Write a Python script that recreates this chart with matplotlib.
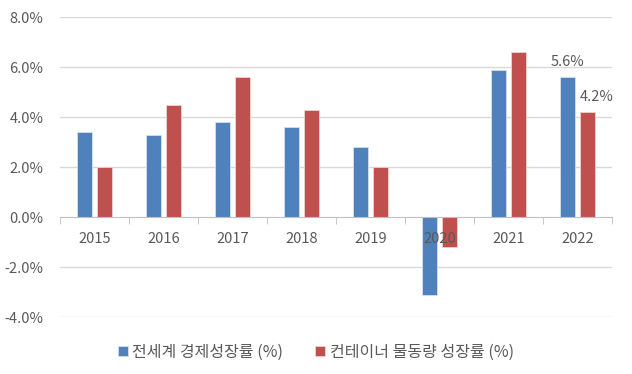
import numpy as np
import matplotlib.pyplot as plt
from matplotlib.ticker import FuncFormatter, FixedLocator

plt.rcParams['font.family'] = ['Noto Sans CJK KR', 'DejaVu Sans']

# 데이터
years = ['2015', '2016', '2017', '2018', '2019', '2020', '2021', '2022']
gdp_growth = [3.4, 3.3, 3.8, 3.6, 2.8, -3.1, 5.9, 5.6]
container_growth = [2.0, 4.5, 5.6, 4.3, 2.0, -1.2, 6.6, 4.2]
series_names = ['전세계 경제성장률 (%)', '컨테이너 물동량 성장률 (%)']

blue = '#4f81bd'
red = '#c0504d'
gray = '#595959'

fig = plt.figure(figsize=(6.32, 3.74), dpi=100)
ax = fig.add_axes([0.095, 0.152, 0.873, 0.8025])

x = np.arange(len(years))
w = 0.22
off = 0.145
b1 = ax.bar(x - off, gdp_growth, w, color=blue, edgecolor='#d6e0ee', linewidth=0.6,
            label=series_names[0], zorder=2)
b2 = ax.bar(x + off, container_growth, w, color=red, edgecolor='#eed3d2', linewidth=0.6,
            label=series_names[1], zorder=2)

ax.set_xlim(-0.5, len(years) - 0.5)
ax.set_ylim(-4.0, 8.0)
ax.set_yticks(np.arange(-4, 8.1, 2))
ax.yaxis.set_major_formatter(FuncFormatter(lambda v, p: f'{v:.1f}%'))
for yv in np.arange(-4, 8.1, 2):
    if yv != 0:
        ax.axhline(yv, color='#d9d9d9', linewidth=1, zorder=1)
ax.set_axisbelow(False)

for s in ['left', 'right', 'top']:
    ax.spines[s].set_visible(False)
ax.spines['bottom'].set_position(('data', 0))
ax.spines['bottom'].set_color('#bfbfbf')
ax.spines['bottom'].set_zorder(3)

ax.set_xticks(x)
ax.set_xticklabels(years)
ax.xaxis.set_minor_locator(FixedLocator(np.arange(-0.5, len(years), 1)))
ax.tick_params(axis='x', which='major', length=0, pad=11, labelsize=10.5, labelcolor=gray)
ax.tick_params(axis='x', which='minor', length=5, color='#bfbfbf', direction='out')
ax.tick_params(axis='y', length=0, labelsize=10.5, labelcolor=gray, pad=12)

# 2022 데이터 레이블
ax.annotate(f'{gdp_growth[-1]:.1f}%', (x[-1] - off, gdp_growth[-1]), xytext=(0, 6),
            textcoords='offset points', ha='center', va='bottom', fontsize=10.5, color=gray)
ax.annotate(f'{container_growth[-1]:.1f}%', (x[-1] + off, container_growth[-1]), xytext=(7, 6),
            textcoords='offset points', ha='center', va='bottom', fontsize=10.5, color=gray)

fig.legend(handles=[b1, b2], loc='center', bbox_to_anchor=(0.5, 0.058), ncol=2, frameon=False,
           fontsize=11.5, handlelength=0.6, handleheight=0.6, handletextpad=0.3,
           columnspacing=2.0, labelcolor=gray)

fig.savefig('out.png', dpi=100)
